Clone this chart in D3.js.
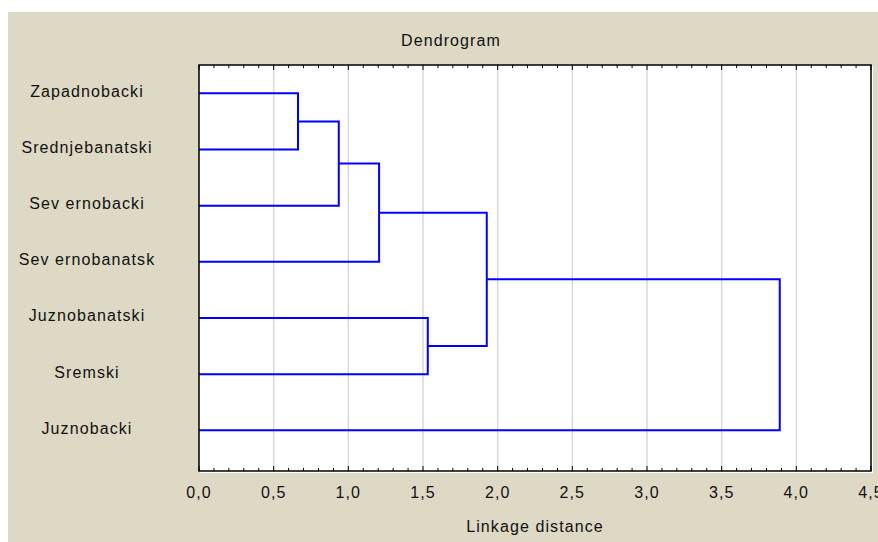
<!DOCTYPE html>
<html>

<head>
    <meta charset='utf-8'>
    <title>Dendrogram</title>
    <script type='text/javascript' src='https://cdn.jsdelivr.net/npm/d3@7/dist/d3.min.js'></script>
    <style>
        body { margin: 0; background: #fff; }
        text { font-family: 'Liberation Sans', Arial, sans-serif; font-size: 16px; letter-spacing: 1.1px; fill: #111; }
    </style>
</head>

<body>
    <svg width='878' height='542'></svg>
    <script type='text/javascript'>

        // leaves, top to bottom
        const leaves = ['Zapadnobacki', 'Srednjebanatski', 'Sev ernobacki', 'Sev ernobanatsk', 'Juznobanatski', 'Sremski', 'Juznobacki']
        // linkage steps: ids 0..6 are leaves, step i creates node 7 + i
        const mergeLeft = [0, 7, 8, 4, 9, 11]
        const mergeRight = [1, 2, 3, 5, 10, 6]
        const mergeHeight = [0.663, 0.936, 1.206, 1.532, 1.927, 3.889]
        const xTicks = [0, 0.5, 1, 1.5, 2, 2.5, 3, 3.5, 4, 4.5]

        const svg = d3.select('svg')
        const plot = { left: 199, top: 65, right: 871, bottom: 471 }

        svg.append('rect').attr('x', 8).attr('y', 12).attr('width', 870).attr('height', 530).attr('fill', '#ddd9c4')
        // white shadow + plot background
        svg.append('rect').attr('x', plot.left + 1).attr('y', plot.top + 1)
            .attr('width', plot.right - plot.left + 1).attr('height', plot.bottom - plot.top + 1).attr('fill', '#fff')
        svg.append('rect').attr('x', plot.left).attr('y', plot.top)
            .attr('width', plot.right - plot.left).attr('height', plot.bottom - plot.top).attr('fill', '#fff')

        const x = d3.scaleLinear().domain([0, 4.5]).range([plot.left, plot.right])
        const y = d3.scalePoint().domain(d3.range(leaves.length)).range([93.3, 430.3])

        const locale = d3.formatLocale({ decimal: ',', thousands: '.', grouping: [3], currency: ['', ''] })
        const fmt = locale.format('.1f')

        // grid
        svg.append('g').selectAll('line').data(xTicks.filter(d => d > 0 && d < 4.5)).join('line')
            .attr('x1', d => x(d)).attr('x2', d => x(d))
            .attr('y1', plot.top).attr('y2', plot.bottom)
            .attr('stroke', '#d9d9d9').attr('stroke-width', 1.5)

        // minor/major ticks, inside, top and bottom
        const tickVals = d3.range(0, 46).map(i => i / 10)
        const ticks = svg.append('g').attr('stroke', '#000').attr('stroke-width', 1)
        tickVals.forEach(v => {
            const len = Math.abs(v * 2 - Math.round(v * 2)) < 1e-6 ? 5 : 3
            ticks.append('line').attr('x1', x(v)).attr('x2', x(v)).attr('y1', plot.top).attr('y2', plot.top + len)
            ticks.append('line').attr('x1', x(v)).attr('x2', x(v)).attr('y1', plot.bottom).attr('y2', plot.bottom - len)
        })

        // dendrogram
        const nodeY = leaves.map((d, i) => y(i))
        const nodeH = leaves.map(() => 0)
        const links = []
        mergeHeight.forEach((h, i) => {
            const a = mergeLeft[i], b = mergeRight[i]
            links.push(`M${x(nodeH[a])},${nodeY[a]}H${x(h)}V${nodeY[b]}H${x(nodeH[b])}`)
            nodeY.push((nodeY[a] + nodeY[b]) / 2)
            nodeH.push(h)
        })
        svg.append('g').selectAll('path').data(links).join('path')
            .attr('d', d => d)
            .attr('fill', 'none').attr('stroke', '#0000ff').attr('stroke-width', 2)

        // frame
        svg.append('rect').attr('x', plot.left).attr('y', plot.top)
            .attr('width', plot.right - plot.left).attr('height', plot.bottom - plot.top)
            .attr('fill', 'none').attr('stroke', '#000').attr('stroke-width', 1.5)

        // x tick labels
        svg.append('g').selectAll('text').data(xTicks).join('text')
            .attr('x', d => x(d)).attr('y', 497.5).attr('text-anchor', 'middle')
            .text(d => fmt(d))

        // leaf labels
        svg.append('g').selectAll('text').data(leaves).join('text')
            .attr('x', 87).attr('y', (d, i) => y(i) + 3.5).attr('text-anchor', 'middle')
            .text(d => d)

        svg.append('text').attr('x', 451).attr('y', 46).attr('text-anchor', 'middle').text('Dendrogram')
        svg.append('text').attr('x', 535).attr('y', 532).attr('text-anchor', 'middle').text('Linkage distance')
    </script>
</body>

</html>
